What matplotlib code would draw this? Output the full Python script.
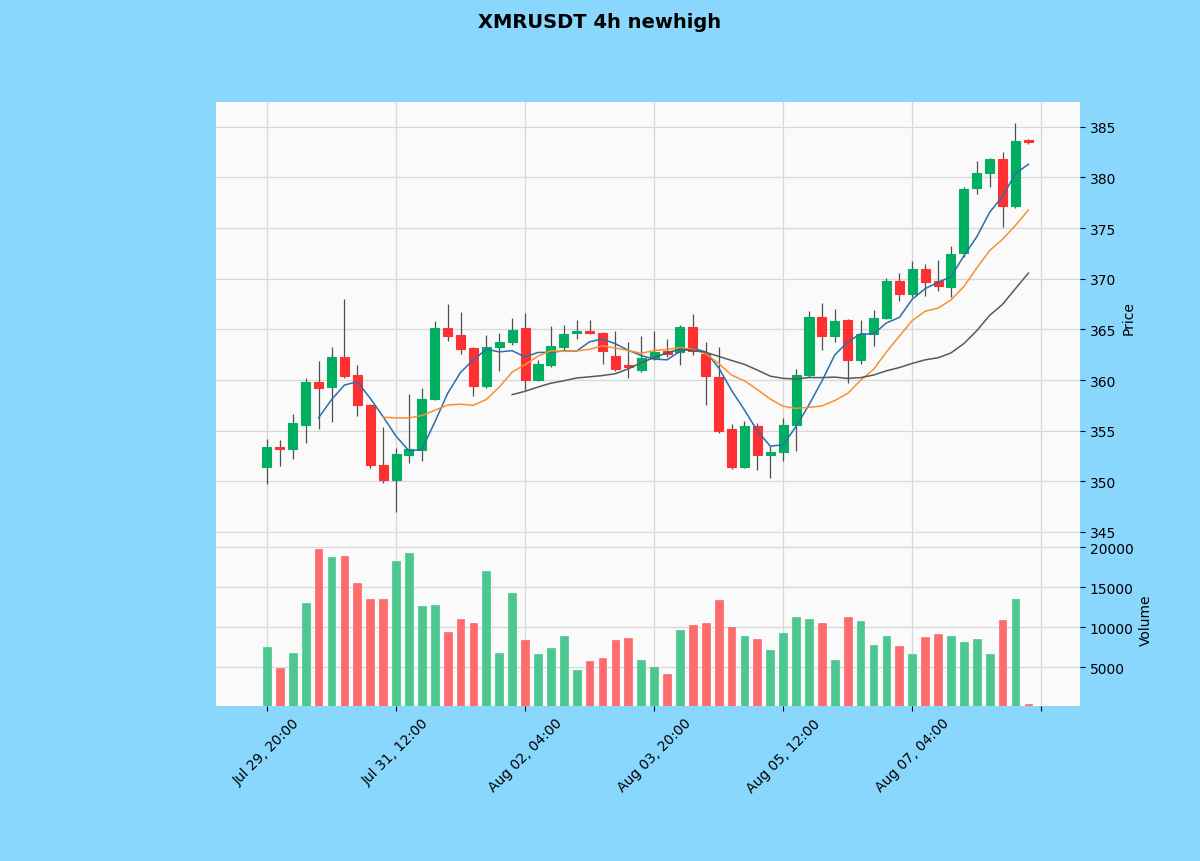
import numpy as np
import pandas as pd
import matplotlib
matplotlib.use("Agg")
import matplotlib.pyplot as plt

# 4h candles
start_time = "2025-07-29 20:00"
opens = [351.4, 353.4, 353.2, 355.6, 359.8, 359.3, 362.3, 360.5, 357.5, 351.6,
         350.1, 352.6, 353.1, 358.1, 365.1, 364.4, 363.2, 359.4, 363.3, 363.8,
         365.1, 360.0, 361.5, 363.3, 364.6, 364.8, 364.6, 362.4, 361.5, 361.0,
         362.2, 362.9, 362.8, 365.2, 362.6, 360.3, 355.2, 351.4, 355.5, 352.6,
         352.9, 355.6, 360.5, 366.2, 364.3, 365.9, 362.0, 364.5, 366.1, 369.8,
         368.5, 371.0, 369.8, 369.2, 372.5, 379.0, 380.4, 381.8, 377.2, 383.7]
highs = [354.2, 354.1, 356.6, 360.2, 361.9, 363.3, 368.0, 361.5, 357.6, 355.4,
         353.3, 358.6, 359.2, 365.8, 367.5, 366.7, 363.3, 364.4, 364.6, 366.1,
         366.6, 362.0, 365.3, 365.4, 365.9, 365.9, 364.7, 364.8, 363.8, 364.3,
         364.8, 364.1, 365.4, 366.5, 363.8, 363.3, 355.7, 356.0, 355.8, 353.5,
         356.3, 361.1, 366.8, 367.6, 367.0, 366.0, 365.9, 366.9, 370.1, 370.6,
         371.8, 371.5, 371.9, 373.2, 379.1, 381.6, 381.9, 382.5, 385.4, 383.8]
lows = [349.7, 351.5, 352.2, 353.8, 355.2, 355.9, 360.2, 356.5, 351.3, 349.8,
        347.0, 351.8, 352.0, 358.0, 363.9, 362.6, 358.4, 359.2, 360.9, 363.5,
        359.0, 359.9, 361.3, 363.0, 364.1, 364.5, 361.6, 360.9, 360.2, 360.8,
        362.0, 362.3, 361.5, 362.5, 357.5, 354.8, 351.2, 351.3, 351.1, 350.3,
        352.0, 353.0, 360.3, 363.0, 363.8, 359.7, 361.6, 363.4, 366.0, 367.8,
        368.2, 368.3, 368.8, 368.2, 372.1, 378.4, 379.1, 375.1, 377.0, 383.3]
closes = [353.4, 353.2, 355.8, 359.8, 359.2, 362.3, 360.4, 357.5, 351.6, 350.1,
          352.7, 353.2, 358.1, 365.1, 364.3, 363.1, 359.4, 363.3, 363.8, 364.9,
          360.0, 361.6, 363.4, 364.5, 364.8, 364.6, 362.9, 361.1, 361.3, 362.2,
          362.8, 362.6, 365.2, 362.9, 360.4, 355.0, 351.4, 355.5, 352.6, 352.9,
          355.6, 360.5, 366.2, 364.3, 365.8, 362.0, 364.5, 366.1, 369.8, 368.5,
          371.0, 369.7, 369.3, 372.4, 378.9, 380.4, 381.8, 377.2, 383.6, 383.5]
volumes = [7500, 4875, 6750, 13000, 19800, 18750, 18850, 15500, 13500, 13500,
           18250, 19300, 12650, 12750, 9400, 11000, 10500, 17000, 6750, 14250,
           8400, 6600, 7400, 8900, 4650, 5750, 6100, 8400, 8650, 5850,
           5000, 4150, 9650, 10250, 10500, 13400, 10000, 8900, 8500, 7150,
           9250, 11250, 11000, 10500, 5900, 11250, 10750, 7750, 8900, 7650,
           6650, 8750, 9150, 8900, 8150, 8500, 6650, 10900, 13500, 420]
mav_periods = [5, 10, 20]

# --- style (yahoo-like) ---
fig_bg = "#8ad7fe"
ax_bg = "#fafafa"
grid_color = "#d8d8d8"
up_color, down_color = "#00b060", "#fe3032"
vol_up, vol_down = "#4dc790", "#fd6b6c"
wick_color = "#505050"
mav_colors = ["#2a6fa8", "#f5922f", "#555a60"]

dates = pd.date_range(start_time, periods=len(closes), freq="4h")
x = np.arange(len(closes))
o = np.array(opens)
c = np.array(closes)
up = c >= o

fig = plt.figure(figsize=(12, 8.62), dpi=100, facecolor=fig_bg)
ax = fig.add_axes([216 / 1200, 328 / 862, 864 / 1200, 431 / 862], facecolor=ax_bg)
axv = fig.add_axes([216 / 1200, 155 / 862, 864 / 1200, 173 / 862], facecolor=ax_bg, sharex=ax)

# 1. candles: wicks first, bodies on top
ax.vlines(x, lows, highs, color=wick_color, linewidth=0.9, zorder=2)
body_colors = [up_color if u else down_color for u in up]
ax.bar(x, np.abs(c - o), bottom=np.minimum(o, c), width=0.7,
       color=body_colors, edgecolor=body_colors, linewidth=0.8, zorder=3)

# 2. moving averages
close_s = pd.Series(closes)
for period, col in zip(mav_periods, mav_colors):
    ax.plot(x, close_s.rolling(period).mean(), color=col, linewidth=1.1, zorder=4)

# 3. volume
vol_colors = [vol_up if u else vol_down for u in up]
axv.bar(x, volumes, width=0.6, color=vol_colors, edgecolor=vol_colors, linewidth=0.5, zorder=3)

# --- axes setup ---
ax.set_xlim(-3.95, 63.0)
ax.set_ylim(344.9, 387.45)
axv.set_ylim(0.3 * min(volumes), 1.1 * max(volumes))
ax.set_yticks([345, 350, 355, 360, 365, 370, 375, 380, 385])
axv.set_yticks([5000, 10000, 15000, 20000])

tick_pos = list(range(0, 61, 10))
tick_labels = [dates[i].strftime("%b %d, %H:%M") if i < len(dates) else "" for i in tick_pos]
axv.set_xticks(tick_pos)
axv.set_xticklabels(tick_labels, rotation=45, ha="center", fontsize=10)
plt.setp(ax.get_xticklabels(), visible=False)

for a in (ax, axv):
    a.yaxis.tick_right()
    a.yaxis.set_label_position("right")
    a.grid(True, color=grid_color, linewidth=0.9)
    a.set_axisbelow(True)
    a.tick_params(labelsize=10, length=3.5)
    for sp in a.spines.values():
        sp.set_visible(False)
ax.tick_params(axis="x", length=0)

ax.set_ylabel("Price", fontsize=10)
axv.set_ylabel("Volume", fontsize=10)

fig.suptitle("XMRUSDT 4h newhigh", fontsize=14, fontweight="bold", y=0.985)

plt.savefig("out.png", dpi=100, facecolor=fig_bg)
